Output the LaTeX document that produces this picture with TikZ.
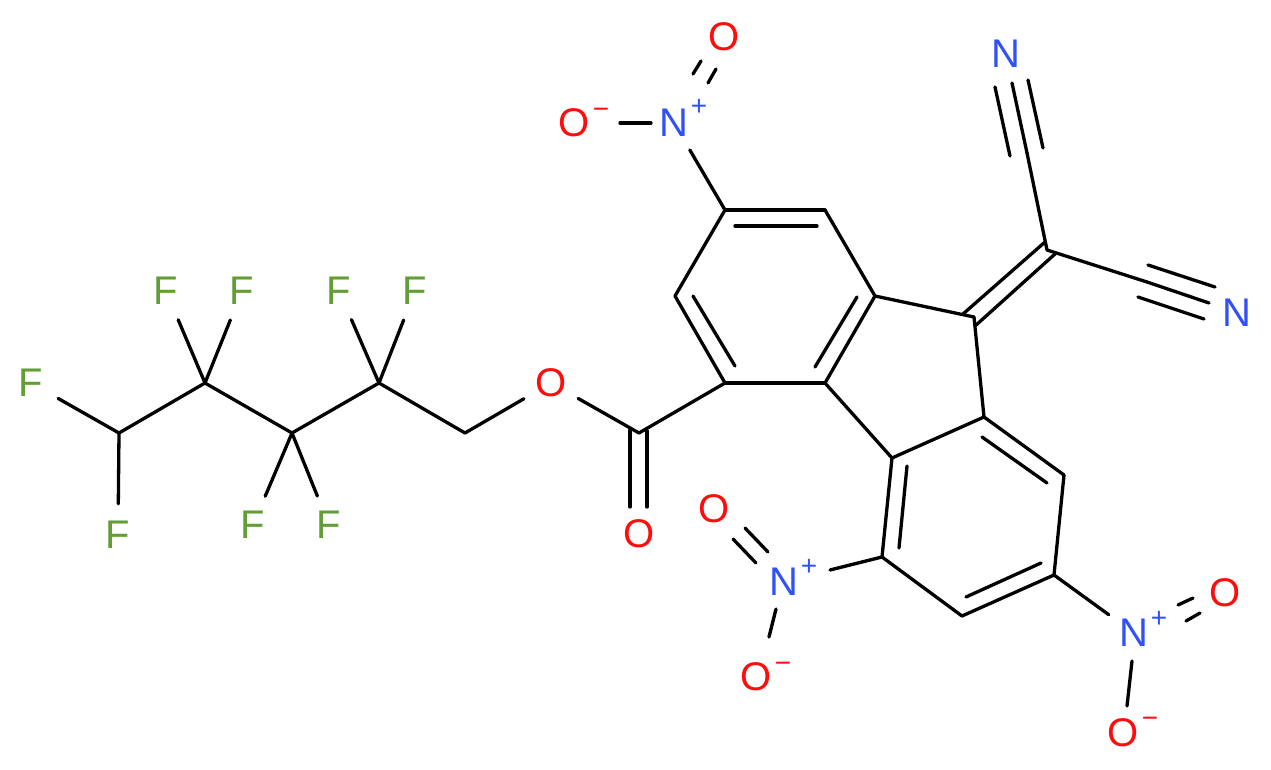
\documentclass[tikz,border=0pt]{standalone}
\usepackage{fontspec}
\setmainfont{Liberation Sans}
\definecolor{oxygen}{HTML}{FF0D0D}
\definecolor{nitrogen}{HTML}{3050F8}
\definecolor{fluorine}{HTML}{629E35}
\tikzset{
  bond/.style={line width=3.3pt,line cap=round},
  atom/.style={circle,inner sep=0pt,minimum size=62pt,font=\fontsize{40}{40}\selectfont},
  charge/.style={inner sep=0pt,font=\fontsize{28}{28}\selectfont},
}
\begin{document}
\begin{tikzpicture}[x=1pt,y=-1pt]
      \useasboundingbox (0,0) rectangle (1271,770);
      \foreach \name/\x/\y in {chf/119/433,cfa/205/383,cfb/292/433,cfc/379/383,chb/465/433,cco/639/433,
        ra/725/383,rb/675/296,rc/725/210,rd/825/210,re/875/296,rf/825/383,
        pa/974/317,pb/984/417,pc/892/458,
        sa/1064/475,sb/1054/575,sc/962/616,sd/882/557,
        cex/1047/250,cna/1027/153,cnb/1147/282}
        \coordinate (\name) at (\x,\y);
      \foreach \name/\x/\y in {fa/31/383,fb/118/535,fc/166/291,fd/242/291,fe/253/525,ff/329/525,fg/339/291,fh/415/291}
        \node[atom,text=fluorine] (\name) at (\x,\y) {F};
      \node[atom,text=oxygen] (oest) at (551,383) {O};
      \node[atom,text=oxygen] (ocar) at (639,534) {O};
      \node[atom,text=nitrogen] (nca) at (1006,54) {N};
      \node[atom,text=nitrogen] (ncb) at (1237,313) {N};
      \begin{scope}[every node/.append style={atom}]
        \node[text=nitrogen] (nta) at (674,123) {N};
        \node[charge,text=nitrogen] (pta) at (699,107) {+};
        \node[text=oxygen] (ota) at (724,37) {O};
        \node[text=oxygen] (otb) at (574,123) {O};
        \node[charge,text=oxygen] (mta) at (601,113) {−};
        \node[text=nitrogen] (nla) at (784,582) {N};
        \node[charge,text=nitrogen] (pla) at (809,567) {+};
        \node[text=oxygen] (ola) at (714,509) {O};
        \node[text=oxygen] (olb) at (756,677) {O};
        \node[charge,text=oxygen] (mla) at (783,667) {−};
        \node[text=nitrogen] (nra) at (1134,633) {N};
        \node[charge,text=nitrogen] (pra) at (1159,619) {+};
        \node[text=oxygen] (ora) at (1225,593) {O};
        \node[text=oxygen] (orb) at (1123,733) {O};
        \node[charge,text=oxygen] (mra) at (1150,722) {−};
      \end{scope}
      \foreach \from/\to in {fa/chf,fb/chf,fc/cfa,fd/cfa,fe/cfb,ff/cfb,fg/cfc,fh/cfc,
        chf/cfa,cfa/cfb,cfb/cfc,cfc/chb,chb/oest,oest/cco,cco/ra,
        ra/rb,rb/rc,rc/rd,rd/re,re/rf,rf/ra,re/pa,pa/pb,pb/pc,pc/rf,
        pb/sa,sa/sb,sb/sc,sc/sd,sd/pc,cex/cna,cex/cnb,
        nta/rc,nra/sb}
        \draw[bond] (\from) -- (\to);
      \foreach \name/\xa/\ya/\xb/\yb in {
        ira/693/296/735/366,irb/735/226/817/226,irc/857/297/815/367,
        isa/982/437/1047/483,isb/1041/563/966/597,isc/899/548/907/466,
        dca/630/430/630/507,dcb/647/431/647/507,
        exa/963/314/1045/242,exb/975/326/1055/254,
        tca/1027/153/1012/83,tcb/1010/156/995/87,tcc/1043/148/1028/80,
        tda/1147/282/1209/303,tdb/1148/265/1215/287,tdc/1138/297/1204/319,
        nba/620/123/651/123,nbb/693/74/701/61,nbc/708/83/716/69,
        nbd/733/539/756/563,nbe/745/528/768/552,nbf/776/609/769/637,nbj/830/570/882/557,
        nbg/1178/605/1193/598,nbh/1186/621/1200/613,nbi/1132/661/1127/706}{
        \coordinate (\name s) at (\xa,\ya);
        \coordinate (\name e) at (\xb,\yb);
        \draw[bond] (\name s) -- (\name e);
      }
\end{tikzpicture}
\end{document}
